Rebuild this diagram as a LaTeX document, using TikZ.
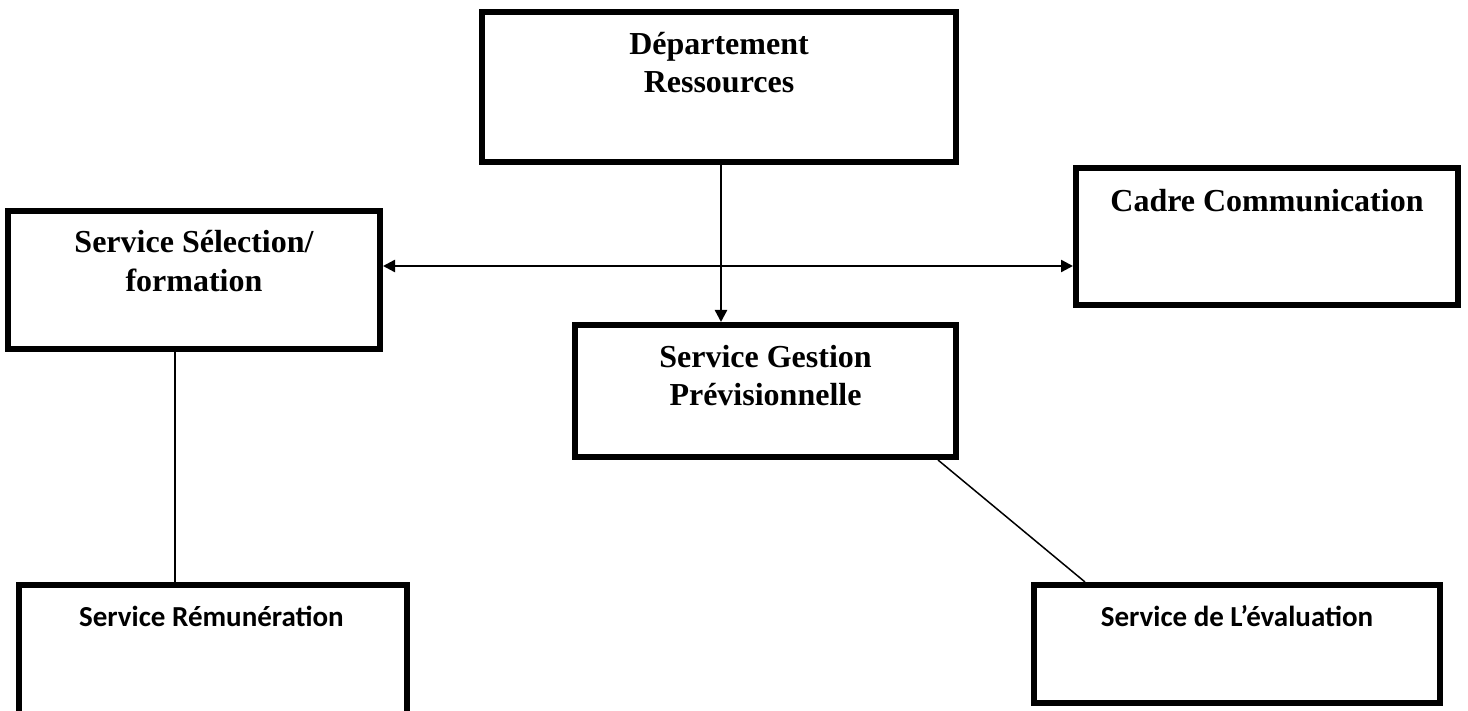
\documentclass[tikz,border=0pt]{standalone}
\usepackage{fontspec}
\setmainfont{Liberation Serif}
\newfontfamily\calibrifont{Carlito}
\usetikzlibrary{arrows.meta}
\begin{document}
\begin{tikzpicture}[x=1pt,y=-1pt,
  box/.style={draw, line width=6pt, rectangle, inner sep=0pt},
  serif/.style={anchor=base, inner sep=0pt, font=\fontsize{32}{38}\selectfont\bfseries},
  sans/.style={anchor=base, inner sep=0pt, font=\calibrifont\fontsize{29}{35}\selectfont\bfseries},
  link/.style={line width=2.4pt},
  plain/.style={line width=1.5pt},
  head/.tip={Triangle[length=12pt,width=12pt]}]
\useasboundingbox (0,0) rectangle (1468,711);
\fill[white] (0,0) rectangle (1468,711);
\clip (0,0) rectangle (1468,711);

% boxes
\node[box, minimum width=474pt, minimum height=150pt] (dept) at (719,87) {};
\node[box, minimum width=372pt, minimum height=138pt] (sel) at (194,280) {};
\node[box, minimum width=382pt, minimum height=137pt] (cadre) at (1267,236.5) {};
\node[box, minimum width=381pt, minimum height=132pt] (gest) at (765.5,391) {};
\node[box, minimum width=388pt, minimum height=142pt] (rem) at (213,656) {};
\node[box, minimum width=406pt, minimum height=118pt] (eval) at (1237,644) {};

% labels
\node[serif] (dept-a) at ([yshift=-46pt]dept.north) {Département};
\node[serif] (dept-b) at ([yshift=-84pt]dept.north) {Ressources};
\node[serif] (sel-a) at ([yshift=-45pt]sel.north) {Service Sélection/};
\node[serif] (sel-b) at ([yshift=-83.5pt]sel.north) {formation};
\node[serif] (cadre-a) at ([yshift=-47pt]cadre.north) {Cadre Communication};
\node[serif] (gest-a) at ([yshift=-46pt]gest.north) {Service Gestion};
\node[serif] (gest-b) at ([yshift=-83.5pt]gest.north) {Prévisionnelle};
\node[sans] (rem-a) at ([yshift=-44pt,xshift=-1.5pt]rem.north) {Service Rémunération};
\node[sans] (eval-a) at ([yshift=-44pt]eval.north) {Service de L’évaluation};

% connectors
\coordinate (hy) at (0,266);
\coordinate (lx) at (175,0);
\coordinate (da) at (938,0);
\coordinate (db) at (1085,0);
\draw[link, head-head] (sel.east |- hy) -- (cadre.west |- hy);
\draw[link, -head] ([xshift=2pt]dept.south) -- ([xshift=2pt]dept.south |- gest.north);
\draw[plain] (sel.south -| lx) -- (rem.north -| lx);
\draw[plain] (gest.south -| da) -- (eval.north -| db);
\end{tikzpicture}
\end{document}
